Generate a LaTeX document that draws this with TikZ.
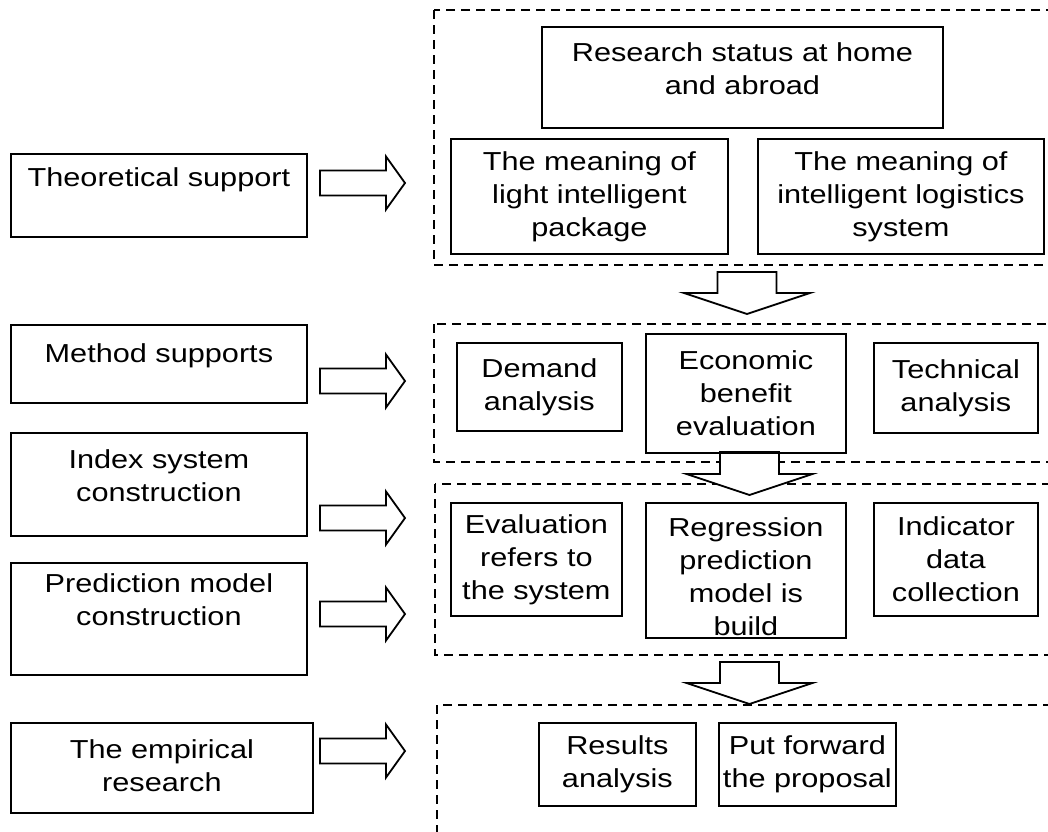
\documentclass[tikz,border=0pt]{standalone}
\usepackage{fontspec}
\setmainfont{Liberation Sans}[FakeStretch=1.18]
\usetikzlibrary{positioning}
\newcommand{\topalign}[3]{\parbox[c][#1][t]{#2}{\centering #3}}

\begin{document}
\begin{tikzpicture}[x=0.5pt, y=-0.5pt,
 box/.style={draw, line width=0.9pt, inner sep=0pt, anchor=north west,
  font=\fontsize{13pt}{16.5pt}\selectfont},
 cbox/.style={box, align=center},
 tbox/.style={box, inner ysep=#1},
 group/.style={draw, line width=0.9pt, dash pattern=on 4.5pt off 3pt},
 blockarrow/.style={draw, line width=0.9pt, fill=white, line join=miter},
 ]
 \useasboundingbox (0,0) rectangle (1048,831);

 % dashed groups
 \draw[group] (434,10) rectangle (1052,265);
 \draw[group] (434,324) rectangle (1052,462);
 \draw[group] (435,484) rectangle (1052,655);
 \draw[group] (437,705) rectangle (1052,840);

 % right block arrows
 \foreach \ya in {183,381,518,614,751}
  \draw[blockarrow] (320,\ya-12.5) -- (386,\ya-12.5) -- (386,\ya-26.5)
   -- (405,\ya) -- (386,\ya+26.5) -- (386,\ya+12.5) -- (320,\ya+12.5) -- cycle;

 % down block arrows
 \foreach \xc/\ya/\yb/\yc in {747/272/293/314, 749.5/452/474/495, 749.5/662/683/704}
  \draw[blockarrow] (\xc-29.5,\ya) -- (\xc+29.5,\ya) -- (\xc+29.5,\yb)
   -- (\xc+63,\yb) -- (\xc,\yc) -- (\xc-63,\yb) -- (\xc-29.5,\yb) -- cycle;

 % left column
 \node[tbox=7pt] (theo) at (10,153) {\topalign{27.5pt}{148pt}{Theoretical support}};
 \node[tbox=9.5pt] (method) at (10,324) {\topalign{20pt}{148pt}{Method supports}};
 \node[tbox=8.5pt] (index) at (10,432) {\topalign{34.5pt}{148pt}{Index system\\construction}};
 \node[tbox=5.5pt] (predict) at (10,562) {\topalign{45pt}{148pt}{Prediction model\\construction}};
 \node[tbox=8.5pt] (empiric) at (10,722) {\topalign{28pt}{151pt}{The empirical\\research}};

 % first group
 \node[tbox=8pt] (status) at (541,26) {\topalign{34.5pt}{200.5pt}{Research status at home\\and abroad}};
 \node[cbox, minimum width=138.5pt, minimum height=57.5pt] (lightpkg) at (450,138)
  {The meaning of\\light intelligent\\package};
 \node[cbox, minimum width=143pt, minimum height=57.5pt] (logistics) at (757,138)
  {The meaning of\\intelligent logistics\\system};

 % second group
 \node[cbox, minimum width=82.5pt, minimum height=44pt] (demand) at (456,342) {Demand\\analysis};
 \node[cbox, minimum width=100pt, minimum height=59.5pt] (econ) at (645,333) {Economic\\benefit\\evaluation};
 \node[cbox, minimum width=82pt, minimum height=45pt] (tech) at (873,342) {Technical\\analysis};

 % third group
 \node[cbox, minimum width=85.5pt, minimum height=56.5pt] (evalsys) at (450,502)
  {Evaluation\\refers to\\the system};
 \node[tbox=7.5pt] (regress) at (645,502) {\topalign{52.5pt}{100pt}{Regression\\prediction\\model is\\build}};
 \node[cbox, minimum width=82pt, minimum height=56.5pt] (indicator) at (873,502)
  {Indicator\\data\\collection};

 % fourth group
 \node[cbox, minimum width=78.5pt, minimum height=41.5pt] (results) at (538,722) {Results\\analysis};
 \node[cbox, minimum width=88.5pt, minimum height=41.5pt] (proposal) at (718,722) {Put forward\\the proposal};

\end{tikzpicture}
\end{document}
